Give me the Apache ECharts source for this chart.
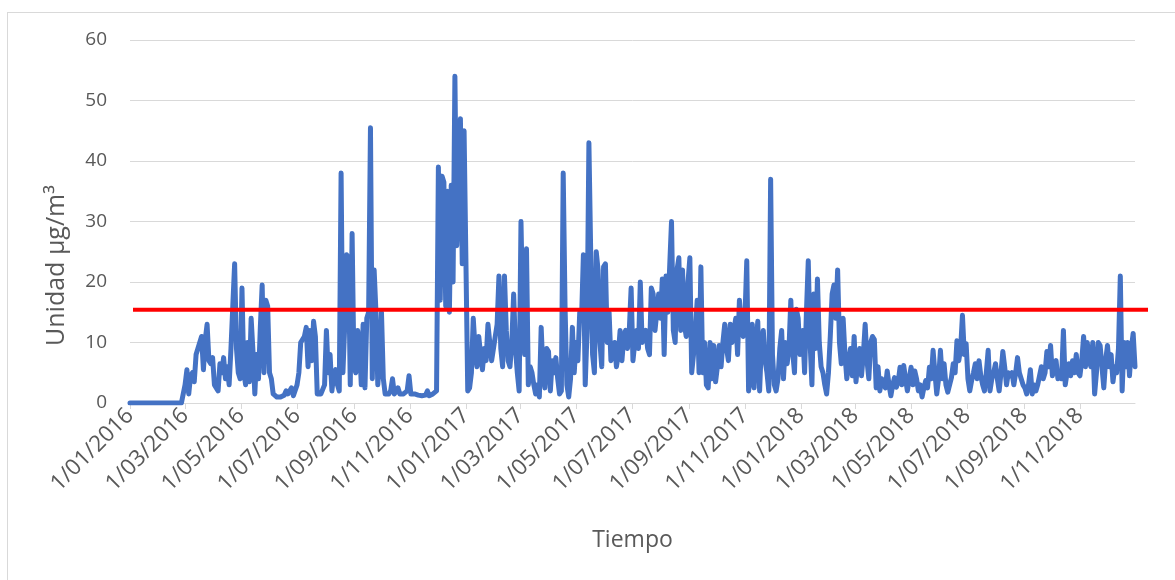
<!DOCTYPE html>
<html>
<head>
<meta charset="utf-8">
<script src="https://cdn.jsdelivr.net/npm/echarts@6/dist/echarts.min.js"></script>
<style>
  html, body { margin: 0; padding: 0; background: #fff; overflow: hidden; }
  #frame { position: absolute; left: 7px; top: 12px; width: 1200px; height: 600px; border: 1px solid #d9d9d9; box-sizing: border-box; }
  #content { position: absolute; left: 0; top: 0; width: 1175px; height: 580px; }
</style>
</head>
<body>
<div id="frame"></div>
<div id="content"></div>
<script>
// valores cada 2 dias, desde el 1 de enero de cada año
var v2016 = [
  0, 0, 0, 0, 0, 0, 0, 0, 0, 0, 0, 0, 0, 0, 0, 0, 0, 0, 0, 0,
  0, 0, 0, 0, 0, 0, 0, 0, 0, 0,
  3, 5.5, 1.5, 4.5, 5, 3.5, 8, 9, 10, 11,
  5.5, 10.5, 13, 7, 6.5, 7.5, 3, 2.5, 2, 6.5,
  5, 7.5, 4, 6, 3, 9, 16, 23, 9, 5,
  4, 19, 5, 3, 10, 3.5, 14, 8.5, 1.5, 8,
  4, 12.5, 19.5, 5, 17, 16, 5, 4, 1.5, 1.2,
  1, 1, 1, 1.1, 1.3, 2, 1.5, 1.8, 2.5, 1.2,
  1, 3, 5, 10, 10.5, 11, 12.5, 6, 12, 7,
  13.5, 11, 1.5, 1.5, 1.5, 1.5, 3, 12, 5, 8,
  2, 5, 5.5, 3, 2, 38, 5, 13, 24.5, 24,
  3, 28, 6, 5, 12, 10, 3, 13, 2.5, 14,
  15, 45.5, 4, 22, 15, 3, 7, 15, 4, 1.5,
  1.5, 1.5, 2, 4, 1.5, 1.5, 2.5, 1.5, 1.5, 1.5,
  1.5, 2, 4.5, 1.5, 1.5, 1.5, 1.5, 1.3, 1.2, 1.2,
  1.5, 1.3, 2, 1.2, 1, 1.5, 1.2, 2, 39, 17,
  37.5, 36.5, 16, 35, 15, 36, 20, 54, 26, 33,
  47, 23, 45
]
var v2017 = [
  45, 2, 2.5, 5, 14, 9, 6, 11, 8, 5.5,
  9, 7, 13, 10, 7, 9, 11, 13, 21, 9,
  6, 21, 12, 7, 6, 10, 18, 9, 5, 2,
  30, 14, 8, 25.5, 3, 6, 5, 3, 1.5, 3,
  1, 12.5, 5, 2.5, 9, 8.5, 2, 7, 5, 7.5,
  4, 1.5, 2, 38, 16, 3, 1, 4, 12.5, 5,
  10, 7, 15, 14, 24.5, 3, 12, 43, 24.5, 8,
  5, 25, 22, 10, 6, 22.5, 23, 10, 15, 7,
  9, 10, 6, 8, 12, 7, 11, 12, 9, 12,
  19, 7, 10, 12, 9, 20, 10, 11, 12, 9,
  8, 19, 18, 12, 12, 18, 14, 20.5, 8, 21,
  15, 22.5, 30, 12, 10, 22, 24, 12, 22, 13,
  11, 20, 24, 5, 8, 12, 17, 5, 22.5, 5,
  10, 3, 2.5, 10, 4, 9.5, 3.5, 6, 9.5, 6,
  10, 13, 9, 7, 13, 10, 12, 14, 8, 17,
  13, 11, 14, 23.5, 2, 5, 13, 2.5, 9, 13.5,
  2, 10, 12, 7, 5, 2, 37, 8, 3, 2,
  4, 9, 12, 4, 10, 6.5, 9, 17, 8.5, 5,
  15.5, 14, 8
]
var v2018 = [
  8, 12, 5, 15, 23.5, 10, 3, 18, 9, 20.5,
  10, 6, 5, 3, 1.5, 5, 11, 18, 19.5, 14,
  22, 10, 6.5, 14, 8, 4, 7, 9, 4.5, 11,
  3.5, 7, 9, 4.5, 8, 13, 7, 4, 10, 11,
  10.5, 2.5, 6, 2, 4, 3.7, 2.5, 5.3, 3, 1.2,
  3, 4.2, 2.6, 3.5, 5.9, 3, 6.2, 4, 2, 4,
  5.9, 3, 5.3, 4, 2, 3, 1, 2.5, 3.7, 2.5,
  5.9, 4, 8.7, 5, 1.5, 4, 8.7, 4, 6.5, 3,
  1.8, 3, 4.2, 6.5, 5, 10.3, 7, 9, 14.5, 8,
  9.8, 4, 2, 3.7, 5, 6.5, 4, 7, 4.5, 3,
  2, 5, 8.7, 2, 4, 5, 6.5, 4, 2, 5,
  8.5, 6, 3, 5, 4.5, 5, 3, 5, 7.5, 5,
  4, 3, 2.5, 1.5, 3, 5.5, 1.5, 3, 2, 3,
  4.5, 6, 4, 5, 8.5, 6, 9.5, 4.5, 6, 7,
  4, 5, 4, 12, 3, 5, 6.5, 4.5, 7, 5,
  8, 5, 4.5, 7, 11, 6, 10, 7, 6, 10,
  1.5, 5, 10, 9.5, 6, 2.5, 7, 9.5, 6, 8,
  3.5, 6, 5, 9, 21, 2, 10, 6, 10, 4.5,
  9, 11.5, 6
]
var stepDays = 2
var limitValue = 15.4

var tickLabels = [
  '1/01/2016', '1/03/2016', '1/05/2016', '1/07/2016', '1/09/2016', '1/11/2016',
  '1/01/2017', '1/03/2017', '1/05/2017', '1/07/2017', '1/09/2017', '1/11/2017',
  '1/01/2018', '1/03/2018', '1/05/2018', '1/07/2018', '1/09/2018', '1/11/2018'
]
var yTicks = [0, 10, 20, 30, 40, 50, 60]

function toTime(label) {
  var p = label.split('/')
  return new Date(+p[2], +p[1] - 1, +p[0]).getTime()
}
function fmt(val) {
  var d = new Date(val)
  var m = d.getMonth() + 1
  return d.getDate() + '/' + (m < 10 ? '0' + m : m) + '/' + d.getFullYear()
}

var serie = []
;[[2016, v2016], [2017, v2017], [2018, v2018]].forEach(function (item) {
  item[1].forEach(function (v, i) {
    serie.push([new Date(item[0], 0, 1 + i * stepDays).getTime(), v])
  })
})
var tickTimes = tickLabels.map(toTime)

var echartsDom = echarts.init(document.getElementById('content'))
var option1 = {
  animation: false,
  textStyle: { fontFamily: 'Open Sans' },
  grid: [
    { left: 130, right: 40, top: 40, bottom: 177 },
    { left: 133, right: 27, top: 40, bottom: 177 }
  ],
  xAxis: [
    {
      type: 'value',
      gridIndex: 0,
      min: new Date(2016, 0, 1).getTime(),
      max: new Date(2018, 11, 31).getTime(),
      name: 'Tiempo',
      nameLocation: 'middle',
      nameGap: 126,
      nameTextStyle: { color: '#595959', fontSize: 23 },
      axisLine: { lineStyle: { color: '#d9d9d9', width: 1 } },
      axisTick: { show: true, customValues: tickTimes, length: 6, lineStyle: { color: '#d9d9d9' } },
      axisLabel: {
        customValues: tickTimes,
        formatter: fmt,
        rotate: 45,
        margin: 9,
        color: '#595959',
        fontSize: 22.5
      },
      splitLine: { show: false }
    },
    { type: 'value', gridIndex: 1, min: 0, max: 1, show: false }
  ],
  yAxis: [
    {
      type: 'value',
      gridIndex: 0,
      min: yTicks[0],
      max: yTicks[yTicks.length - 1],
      interval: 10,
      name: 'Unidad µg/m³',
      nameLocation: 'middle',
      nameRotate: 90,
      nameGap: 61,
      nameTextStyle: { color: '#595959', fontSize: 25, padding: [0, 88, 0, 0] },
      axisLine: { show: false },
      axisTick: { show: false },
      axisLabel: { color: '#595959', fontSize: 19, margin: 23 },
      splitLine: { lineStyle: { color: '#d9d9d9', width: 1 } }
    },
    { type: 'value', gridIndex: 1, min: 0, max: 60, show: false }
  ],
  series: [
    {
      type: 'line',
      xAxisIndex: 0,
      yAxisIndex: 0,
      data: serie,
      showSymbol: false,
      lineStyle: { color: '#4472c4', width: 5, join: 'round', cap: 'round' },
      itemStyle: { color: '#4472c4' }
    },
    {
      type: 'line',
      xAxisIndex: 1,
      yAxisIndex: 1,
      data: [[0, limitValue], [1, limitValue]],
      showSymbol: false,
      lineStyle: { color: '#ff0000', width: 4 }
    }
  ]
}
echartsDom.setOption(option1)
</script>
</body>
</html>
